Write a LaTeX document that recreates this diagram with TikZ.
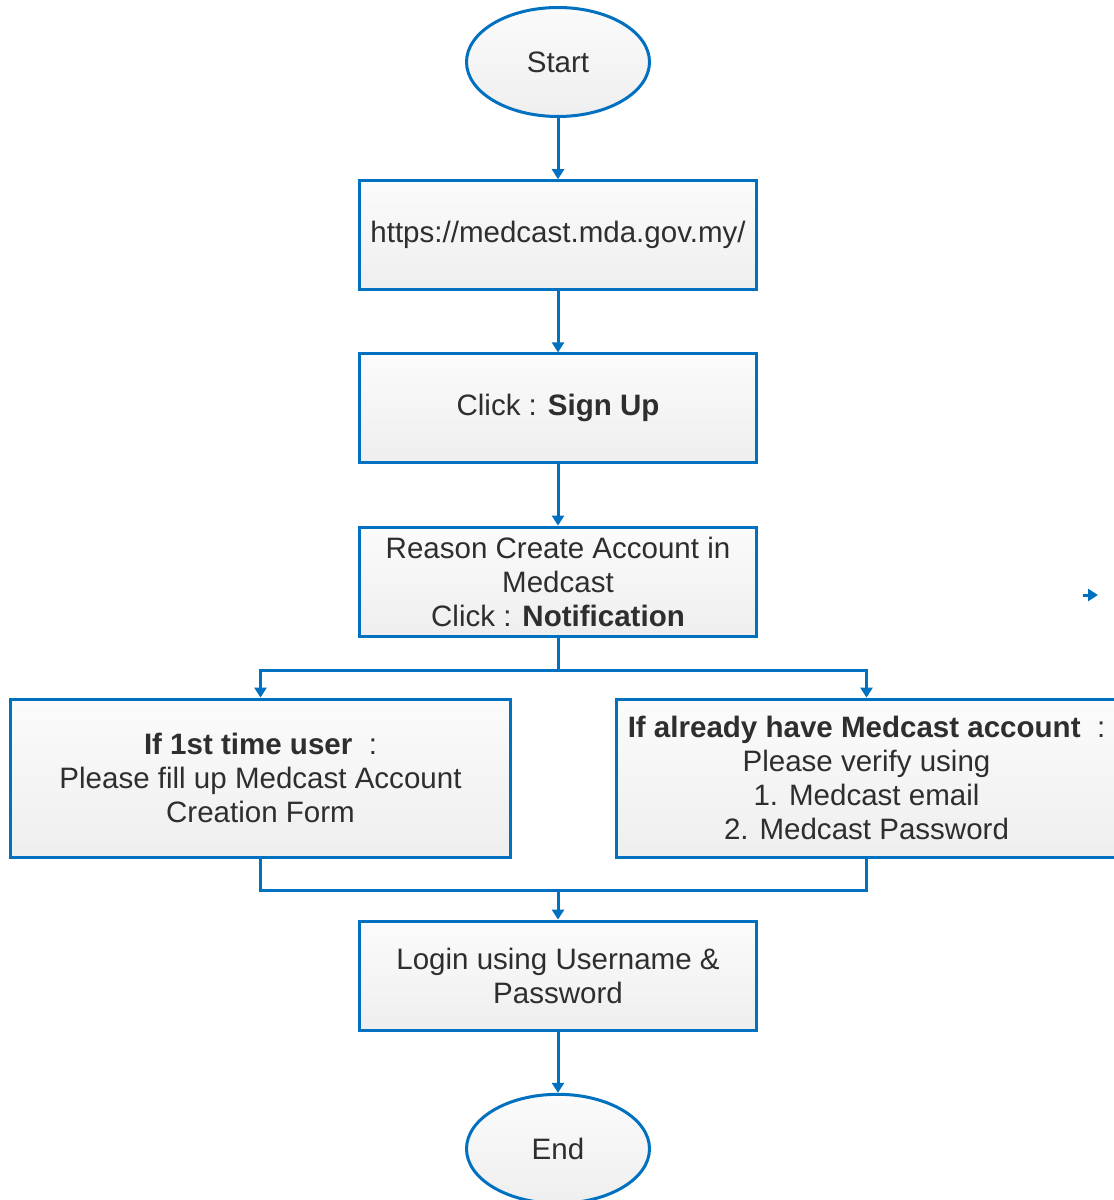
\documentclass[tikz,border=0pt]{standalone}
\usepackage{fontspec}
\setmainfont{Liberation Sans}
\usepackage{tikz}
\usetikzlibrary{calc}
\usetikzlibrary{arrows.meta, positioning, shapes.geometric}
\definecolor{flowblue}{HTML}{0070C0}
\definecolor{flowtext}{HTML}{2E2E2E}

\begin{document}
\begin{tikzpicture}[->,>={Triangle[length=0.25cm,width=0.3cm]},color=flowblue,line width=0.075cm,node distance=4.33cm,
  every node/.style={font=\fontsize{21pt}{24.2pt}\selectfont, text=flowtext},
  terminal/.style={ellipse, draw=flowblue, top color=gray!3, bottom color=gray!13, minimum width=4.575cm, minimum height=2.725cm, inner sep=0pt},
  process/.style={rectangle, draw=flowblue, top color=gray!3, bottom color=gray!13, minimum width=9.925cm, minimum height=2.725cm, align=center, inner sep=0pt},
  choice/.style={process, minimum width=12.5cm, minimum height=3.95cm}]
  \useasboundingbox (0,0) rectangle (27.825,-30);

  \node[terminal] (start)   at (13.95,-1.55)    {Start};
  \node[process]  (url)     [below of=start]  {https://medcast.mda.gov.my/};
  \node[process]  (signup)  [below of=url]    {Click : \textbf{Sign Up}};
  \node[process]  (reason)  [below of=signup] {Reason Create Account in\\Medcast\\Click : \textbf{Notification}};
  \node[choice]   (first)   [below of=reason, node distance=4.9125cm, xshift=-7.4375cm]
       {\textbf{If 1st time user}\ \ :\\Please fill up Medcast Account\\Creation Form};
  \node[choice]   (already) [below of=reason, node distance=4.9125cm, xshift=7.7125cm]
       {\textbf{If already have Medcast account}\ \ :\\Please verify using\\1. Medcast email\\2. Medcast Password};
  \node[process]  (login)   [below of=reason, node distance=9.85cm] {Login using Username \&\\Password};
  \node[terminal] (end)     [below of=login]  {End};

  \coordinate (fork) at ($(reason.south)+(0,-0.825)$);
  \coordinate (join) at ($(login.north)+(0,0.725)$);
  \coordinate (stray)    at (27.075,-14.875);
  \coordinate (strayend) at (27.45,-14.875);

  \path
        (start)  edge (url)
        (url)    edge (signup)
        (signup) edge (reason)
        (login)  edge (end);

  \draw[-] (reason.south) -- (fork);
  \draw (fork) -| (first.north);
  \draw (fork) -| (already.north);
  \draw[-] (first.south) |- (join);
  \draw[-] (already.south) |- (join);
  \draw (join) -- (login.north);
  \draw (stray) -- (strayend);
\end{tikzpicture}
\end{document}
